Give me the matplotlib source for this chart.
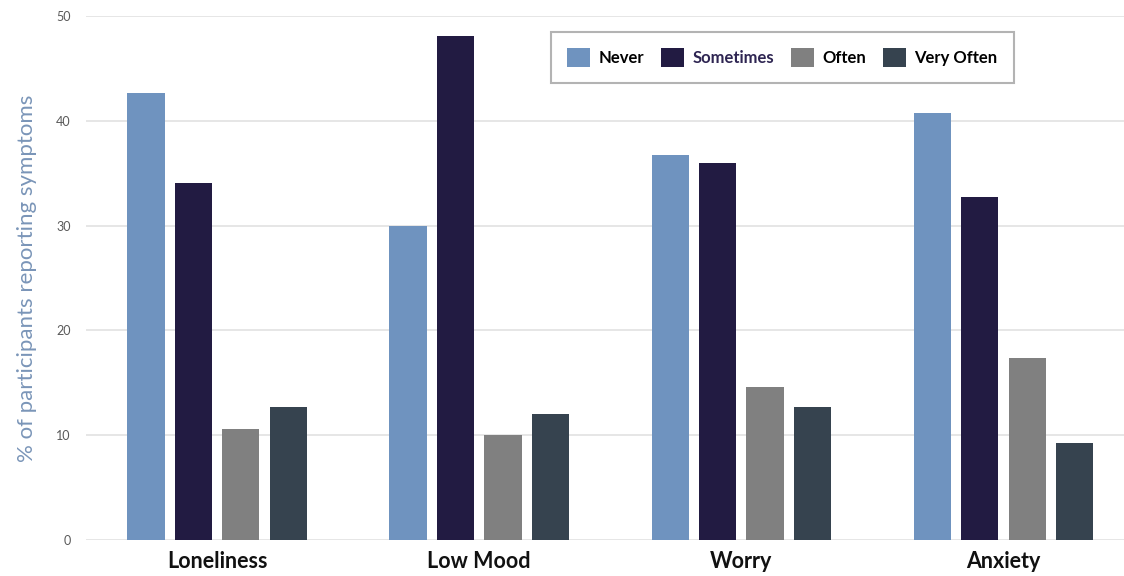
import numpy as np
import matplotlib.pyplot as plt

# symptom categories and response frequencies (% of participants)
categories = ["Loneliness", "Low Mood", "Worry", "Anxiety"]
responses = ["Never", "Sometimes", "Often", "Very Often"]

never = [42.7, 30.0, 36.7, 40.7]
sometimes = [34.1, 48.1, 36.0, 32.7]
often = [10.6, 10.0, 14.6, 17.4]
very_often = [12.7, 12.0, 12.7, 9.3]

colours = ["#6f93bf", "#221b42", "#808080", "#36434f"]

plt.rcParams['font.family'] = ['Lato', 'DejaVu Sans']

fig = plt.figure(figsize=(11.24, 5.76), dpi=100)
ax = fig.add_axes([86 / 1124, 36 / 576, 1038 / 1124, 524 / 576])

x = np.arange(len(categories))
width = 0.142
pitch = 0.181
offsets = (np.arange(4) - 1.5) * pitch

for i, (series, name) in enumerate(zip([never, sometimes, often, very_often], responses)):
    ax.bar(x + offsets[i], series, width, color=colours[i], label=name, zorder=3)

ax.set_ylim(0, 50)
ax.set_xlim(-0.5, 3.46)
ax.set_yticks([0, 10, 20, 30, 40, 50])
ax.yaxis.grid(True, color="#e2e2e2", linewidth=1.2, zorder=0)
ax.tick_params(axis="y", length=0, labelsize=9, labelcolor="#595959", pad=11)
ax.tick_params(axis="x", length=0, pad=8)
ax.set_xticks(x)
ax.set_xticklabels(categories, fontsize=15.5, fontweight="bold", color="#111111")
for s in ax.spines.values():
    s.set_visible(False)

ax.set_ylabel("% of participants reporting symptoms", fontsize=16, color="#7a95b8", labelpad=14)

leg = ax.legend(loc="upper left", bbox_to_anchor=(0.44, 0.985), ncol=4, frameon=True,
                fancybox=False, edgecolor="#a0a0a0", handlelength=1.4,
                handleheight=1.4, columnspacing=1.0, handletextpad=0.5,
                borderpad=0.95, prop={"weight": "bold", "size": 12})
leg.get_frame().set_linewidth(1.5)
leg.get_texts()[1].set_color("#2e2552")

fig.savefig("out.png", dpi=100)
